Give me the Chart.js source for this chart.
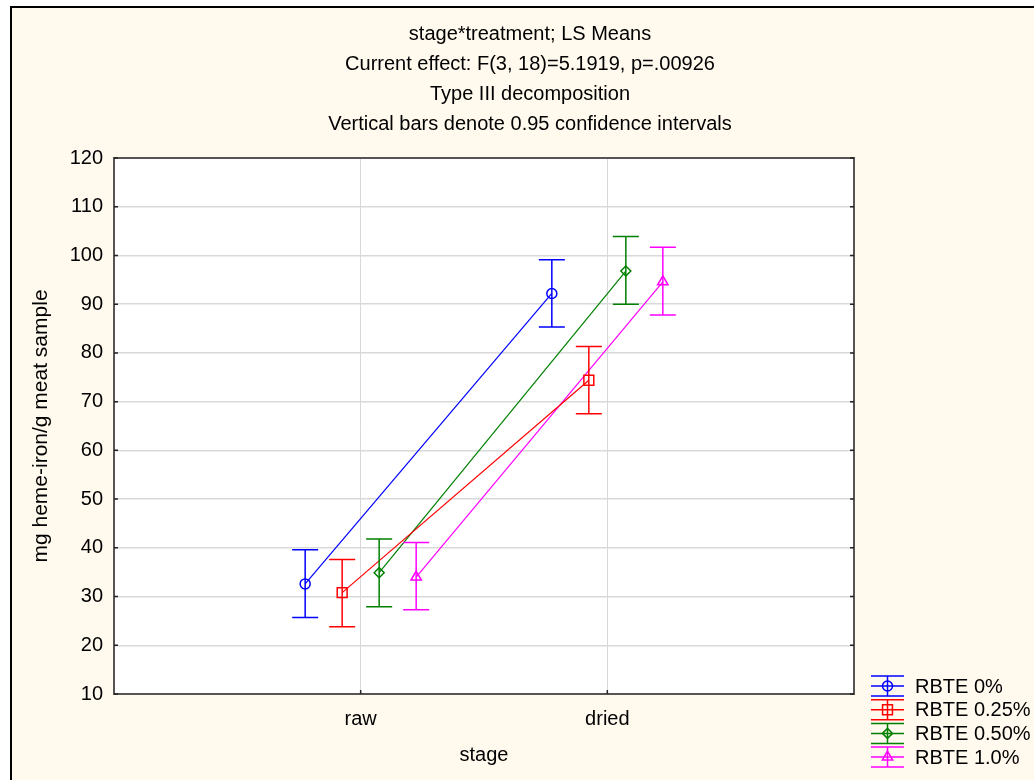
<!DOCTYPE html>
<html>
<head>
<meta charset="utf-8">
<title>stage*treatment; LS Means</title>
<script src="https://cdn.jsdelivr.net/npm/chart.js@4.4.1/dist/chart.umd.min.js"></script>
<style>
  html, body { margin: 0; padding: 0; background: #fff; overflow: hidden; }
  #frame { position: absolute; left: 10px; top: 6px; width: 1040px; height: 800px;
           background: #fff9ee; border-left: 2px solid #000; border-top: 2px solid #000; }
  #lsChart { position: absolute; left: 0; top: 0; }
</style>
</head>
<body>
<div id="frame">
  <canvas id="lsChart" width="1022" height="772"></canvas>
</div>
<script>
/* data */
const categories = ["raw", "dried"];
const seriesNames = ["RBTE 0%", "RBTE 0.25%", "RBTE 0.50%", "RBTE 1.0%"];

const meanRBTE0 = [32.6, 92.2];
const lowRBTE0 = [25.7, 85.3];
const highRBTE0 = [39.6, 99.1];

const meanRBTE025 = [30.8, 74.4];
const lowRBTE025 = [23.8, 67.5];
const highRBTE025 = [37.6, 81.3];

const meanRBTE050 = [34.9, 96.8];
const lowRBTE050 = [27.9, 90.0];
const highRBTE050 = [41.8, 103.9];

const meanRBTE10 = [34.0, 94.6];
const lowRBTE10 = [27.3, 87.8];
const highRBTE10 = [41.1, 101.7];

const titleLines = [
    "stage*treatment; LS Means",
    "Current effect: F(3, 18)=5.1919, p=.00926",
    "Type III decomposition",
    "Vertical bars denote 0.95 confidence intervals"
];

const means = [meanRBTE0, meanRBTE025, meanRBTE050, meanRBTE10];
const lows = [lowRBTE0, lowRBTE025, lowRBTE050, lowRBTE10];
const highs = [highRBTE0, highRBTE025, highRBTE050, highRBTE10];

/* look */
const colors = ["#0000ff", "#ff0000", "#008000", "#ff00ff"];
const markers = ["circle", "rect", "rectRot", "triangle"];
const markerSize = [5, 7, 5, 6];
const dodge = [-0.225, -0.075, 0.075, 0.225];
const fontFamily = "'Liberation Sans', Arial, sans-serif";

Chart.defaults.font.family = fontFamily;
Chart.defaults.font.size = 20;
Chart.defaults.color = "#000";

const datasets = seriesNames.map((name, s) => ({
    label: name,
    data: categories.map((c, i) => ({ x: i + 1 + dodge[s], y: means[s][i] })),
    borderColor: colors[s],
    borderWidth: 1.2,
    pointStyle: markers[s],
    pointRadius: markerSize[s],
    pointBorderWidth: 1.5,
    pointBorderColor: colors[s],
    pointBackgroundColor: "rgba(0,0,0,0)",
    fill: false,
    tension: 0
}));

/* white plot area */
const plotBg = {
    id: "plotBg",
    beforeDraw(chart) {
        const a = chart.chartArea, ctx = chart.ctx;
        ctx.save();
        ctx.fillStyle = "#fff";
        ctx.fillRect(a.left, a.top, a.right - a.left, a.bottom - a.top);
        ctx.restore();
    }
};

/* confidence interval whiskers */
const errorBars = {
    id: "errorBars",
    afterDatasetsDraw(chart) {
        const ctx = chart.ctx;
        const xs = chart.scales.x, ys = chart.scales.y;
        ctx.save();
        ctx.lineWidth = 1.5;
        datasets.forEach((ds, s) => {
            ctx.strokeStyle = colors[s];
            ds.data.forEach((p, i) => {
                const px = xs.getPixelForValue(p.x);
                const yl = ys.getPixelForValue(lows[s][i]);
                const yh = ys.getPixelForValue(highs[s][i]);
                ctx.beginPath();
                ctx.moveTo(px, yl); ctx.lineTo(px, yh);
                ctx.moveTo(px - 13, yl); ctx.lineTo(px + 13, yl);
                ctx.moveTo(px - 13, yh); ctx.lineTo(px + 13, yh);
                ctx.stroke();
            });
        });
        ctx.restore();
    }
};

/* box round the plot, inner tick marks, title block, legend */
const decorations = {
    id: "decorations",
    afterDraw(chart) {
        const ctx = chart.ctx, a = chart.chartArea;
        const xs = chart.scales.x, ys = chart.scales.y;
        ctx.save();
        ctx.strokeStyle = "#555";
        ctx.lineWidth = 2;
        ctx.strokeRect(a.left, a.top, a.right - a.left, a.bottom - a.top);

        ctx.lineWidth = 1.5;
        ctx.strokeStyle = "#222";
        ctx.beginPath();
        ys.ticks.forEach(t => {
            const py = ys.getPixelForValue(t.value);
            ctx.moveTo(a.left, py); ctx.lineTo(a.left + 4, py);
            ctx.moveTo(a.right, py); ctx.lineTo(a.right - 4, py);
        });
        xs.ticks.forEach(t => {
            const px = xs.getPixelForValue(t.value);
            ctx.moveTo(px, a.bottom); ctx.lineTo(px, a.bottom - 4);
        });
        ctx.stroke();

        // title
        ctx.fillStyle = "#000";
        ctx.font = "20px " + fontFamily;
        ctx.textAlign = "center";
        ctx.textBaseline = "middle";
        titleLines.forEach((line, k) => {
            ctx.fillText(line, 518, 26 + k * 30);
        });

        // legend
        ctx.textAlign = "left";
        seriesNames.forEach((name, s) => {
            const cy = 678 + s * 23.7;
            const cx = 875.5;
            ctx.strokeStyle = colors[s];
            ctx.lineWidth = 1.5;
            ctx.beginPath();
            ctx.moveTo(cx - 16.5, cy - 10); ctx.lineTo(cx + 16.5, cy - 10);
            ctx.moveTo(cx - 16.5, cy); ctx.lineTo(cx + 16.5, cy);
            ctx.moveTo(cx - 16.5, cy + 10); ctx.lineTo(cx + 16.5, cy + 10);
            ctx.moveTo(cx, cy - 10); ctx.lineTo(cx, cy + 10);
            ctx.stroke();
            ctx.fillStyle = "rgba(0,0,0,0)";
            Chart.helpers.drawPoint(ctx, {
                pointStyle: markers[s],
                radius: markerSize[s],
                borderWidth: 1.5
            }, cx, cy);
            ctx.fillStyle = "#000";
            ctx.fillText(name, 903, cy + 1);
        });
        ctx.restore();
    }
};

const ctx = document.getElementById("lsChart").getContext("2d");

new Chart(ctx, {
    type: "line",
    data: { datasets: datasets },
    plugins: [plotBg, errorBars, decorations],
    options: {
        responsive: false,
        animation: false,
        layout: { padding: { top: 150, right: 180, left: 0, bottom: 0 } },
        plugins: {
            legend: { display: false },
            title: { display: false },
            tooltip: { enabled: false }
        },
        scales: {
            x: {
                type: "linear",
                min: 0,
                max: 3,
                afterBuildTicks: (scale) => {
                    scale.ticks = categories.map((c, i) => ({ value: i + 1 }));
                },
                afterFit: (scale) => { scale.height = 86; },
                ticks: {
                    padding: 13,
                    callback: (v) => categories[v - 1]
                },
                grid: { color: "#d9d9d9", lineWidth: 1, drawTicks: false },
                border: { color: "#555", width: 2 },
                title: { display: true, text: "stage", padding: { top: 0, bottom: 13 } }
            },
            y: {
                min: 10,
                max: 120,
                afterFit: (scale) => { scale.width = 102; },
                ticks: { stepSize: 10, padding: 11 },
                grid: { color: "#d9d9d9", lineWidth: 1.5, drawTicks: false },
                border: { color: "#555", width: 2 },
                title: {
                    display: true,
                    text: "mg heme-iron/g meat sample",
                    font: { size: 21 },
                    padding: { top: 17, bottom: 0 }
                }
            }
        }
    }
});
</script>
</body>
</html>
